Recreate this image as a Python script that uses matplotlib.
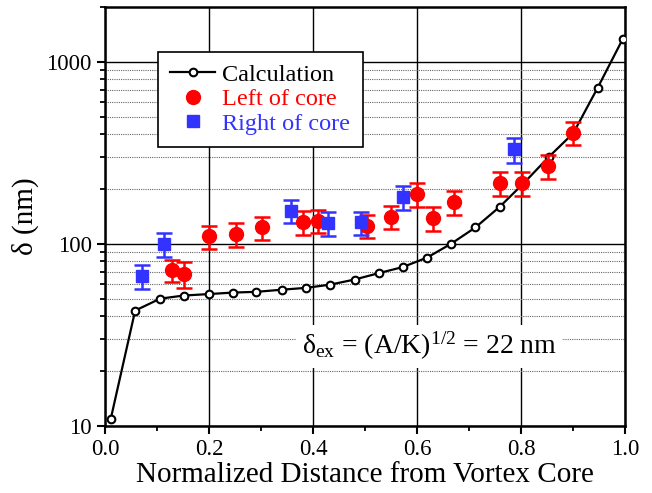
import matplotlib
matplotlib.use("Agg")
import matplotlib.pyplot as plt
from matplotlib.lines import Line2D
from matplotlib.ticker import LogLocator, NullFormatter, MultipleLocator, FormatStrFormatter

plt.rcParams['font.family'] = ['Liberation Serif', 'DejaVu Serif']
plt.rcParams['mathtext.fontset'] = 'custom'
plt.rcParams['mathtext.rm'] = 'Liberation Serif'
plt.rcParams['mathtext.it'] = 'Liberation Serif:italic'

# calculated curve
calc_x = [0.011, 0.058, 0.106, 0.151, 0.200, 0.246, 0.291, 0.340, 0.386, 0.433, 0.480,
          0.526, 0.572, 0.619, 0.665, 0.712, 0.759, 0.806, 0.853, 0.900, 0.947, 0.995]
calc_y = [10.9, 43, 50, 52, 53, 54, 54.5, 56, 57.3, 59.7, 63.7,
          69, 74.5, 84, 100, 123, 160, 217, 300, 405, 720, 1330]

# left of core (red circles)
left_x = [0.129, 0.151, 0.200, 0.251, 0.301, 0.381, 0.410, 0.503, 0.550, 0.600,
          0.631, 0.671, 0.760, 0.801, 0.851, 0.900]
left_y = [72, 68.4, 110, 113, 123, 132, 134, 126, 141, 188,
          138, 169, 215, 216, 266, 406]
left_err = [10, 11, 16, 17, 18, 20, 20, 18, 20, 28,
            21, 25, 32, 32, 40, 58]

# right of core (blue squares)
right_x = [0.072, 0.114, 0.358, 0.429, 0.492, 0.572, 0.786]
right_y = [66.7, 99.6, 152, 130, 131, 180, 331]
right_err = [10, 15, 22, 20, 19, 27, 52]

labels = ['Calculation', 'Left of core', 'Right of core']

red = '#ff0000'
blue = '#3333ff'

fig = plt.figure(figsize=(6.52, 4.93), dpi=100)
ax = fig.add_axes([0.161, 0.136, 0.798, 0.850])

ax.set_yscale('log')
ax.set_xlim(0, 1.0)
ax.set_ylim(10, 2000)

ax.plot(calc_x, calc_y, '-o', color='black', lw=1.6, ms=5.5, mfc='white', mec='black',
        mew=1.5, zorder=4)
ax.errorbar(left_x, left_y, yerr=left_err, fmt='o', color=red, ms=10, elinewidth=1.8,
            capsize=6, capthick=1.8, zorder=5)
ax.errorbar(right_x, right_y, yerr=right_err, fmt='s', color=blue, ms=9, elinewidth=1.8,
            capsize=6, capthick=1.8, zorder=5)

ax.xaxis.set_major_locator(MultipleLocator(0.2))
ax.xaxis.set_minor_locator(MultipleLocator(0.1))
ax.xaxis.set_major_formatter(FormatStrFormatter('%.1f'))
ax.yaxis.set_major_locator(LogLocator(base=10, numticks=10))
ax.yaxis.set_minor_locator(LogLocator(base=10, subs=range(2, 10), numticks=20))
ax.yaxis.set_minor_formatter(NullFormatter())
ax.yaxis.set_major_formatter(FormatStrFormatter('%d'))

ax.grid(True, which='major', color='black', lw=1.0)
ax.grid(True, which='minor', axis='y', color='#666666', lw=0.8, ls=(0, (1, 1)))
ax.grid(False, which='minor', axis='x')
ax.set_axisbelow(True)

ax.tick_params(which='major', direction='out', length=6, width=1.5, labelsize=16.5)
ax.tick_params(which='minor', direction='out', length=3.5, width=1.3)
for s in ax.spines.values():
    s.set_linewidth(1.8)

ax.set_xlabel('Normalized Distance from Vortex Core', fontsize=21, labelpad=1)
ax.set_ylabel('δ (nm)', fontsize=21, labelpad=5)

handles = [
    Line2D([], [], color='black', lw=1.6, marker='o', ms=5.5, mfc='white', mec='black', mew=1.5),
    Line2D([], [], ls='none', marker='o', ms=10, color=red),
    Line2D([], [], ls='none', marker='s', ms=9, color=blue),
]
leg = ax.legend(handles, labels, loc='upper left', bbox_to_anchor=(0.102, 0.893),
                borderaxespad=0, fontsize=17.5, frameon=True, fancybox=False,
                edgecolor='black', handlelength=1.85, handletextpad=0.3, labelspacing=0.1,
                borderpad=0.5, numpoints=1)
leg.get_frame().set_linewidth(1.2)
leg.get_frame().set_alpha(1)
for t, c in zip(leg.get_texts(), ['black', red, blue]):
    t.set_color(c)

ax.text(0.378, 0.19, r'δ$_{\rm ex}$ = (A/K)$^{1/2}$ = 22 nm', transform=ax.transAxes,
        fontsize=20, ha='left', va='center', zorder=3,
        bbox=dict(facecolor='white', edgecolor='none', pad=4))

fig.savefig('out.png', dpi=100)
